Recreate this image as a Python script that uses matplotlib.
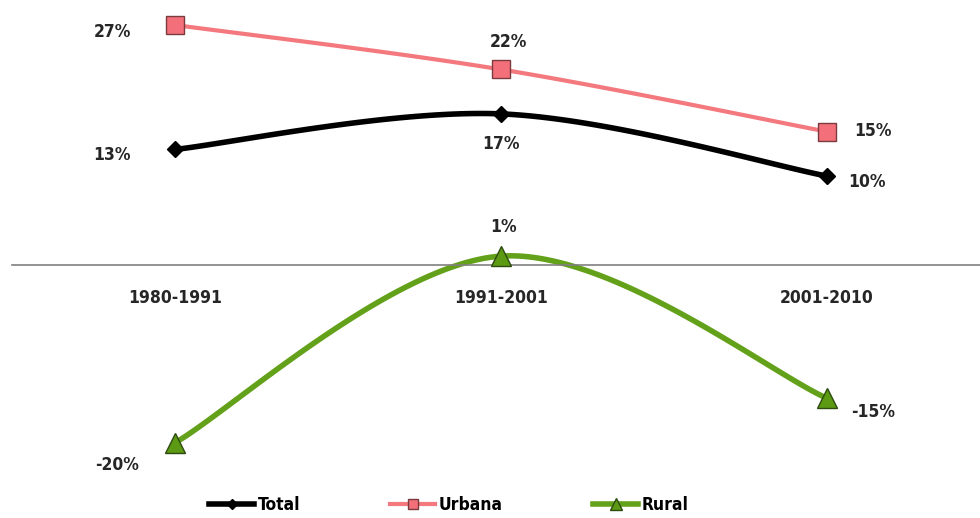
import matplotlib.pyplot as plt
import numpy as np
from matplotlib import font_manager

periods = ['1980-1991', '1991-2001', '2001-2010']
total = [13, 17, 10]
urbana = [27, 22, 15]
rural = [-20, 1, -15]

# pick a narrow bold font if we have one
fam = 'DejaVu Sans'
stretch = 'normal'
for f in font_manager.fontManager.ttflist:
    if ('Narrow' in f.name or 'Condensed' in f.name) and f.weight in ('bold', 700):
        fam = f.name
        break
    if f.stretch in ('condensed', 'semi-condensed', 'extra-condensed') and f.weight in ('bold', 700):
        fam = f.name
        stretch = f.stretch
        break
plt.rcParams['font.family'] = [fam, 'DejaVu Sans']
plt.rcParams['font.stretch'] = stretch
txt_color = '#262626'


def smooth(xs, ys, n=60):
    # catmull-rom style curve through the points (like Excel's smoothed line)
    xs = np.asarray(xs, float)
    ys = np.asarray(ys, float)
    px = np.concatenate([[xs[0]], xs, [xs[-1]]])
    py = np.concatenate([[ys[0]], ys, [ys[-1]]])
    ox, oy = [], []
    for i in range(1, len(px) - 2):
        p0, p1, p2, p3 = (np.array([px[j], py[j]]) for j in (i - 1, i, i + 1, i + 2))
        c1 = p1 + (p2 - p0) / 6
        c2 = p2 - (p3 - p1) / 6
        t = np.linspace(0, 1, n)[:, None]
        b = (1 - t) ** 3 * p1 + 3 * (1 - t) ** 2 * t * c1 + 3 * (1 - t) * t ** 2 * c2 + t ** 3 * p2
        ox.extend(b[:, 0])
        oy.extend(b[:, 1])
    return np.array(ox), np.array(oy)


fig = plt.figure(figsize=(9.8, 5.18), dpi=100)
ax = fig.add_axes([12 / 980, 53 / 518, 968 / 980, 460 / 518])
x = np.arange(len(periods))

styles = [
    ('Total', total, '#000000', 4, 'D', 8, '#000000', '#000000'),
    ('Urbana', urbana, '#f4797f', 3, 's', 13, '#f3707a', '#7a3a3e'),
    ('Rural', rural, '#64a11a', 4, '^', 14, '#5b9a12', '#2e4a10'),
]
for name, vals, col, lw, mk, ms, fc, ec in styles:
    sx, sy = smooth(x, vals)
    ax.plot(sx, sy, color=col, lw=lw, solid_capstyle='round', zorder=2)
    ax.plot(x, vals, linestyle='none', marker=mk, ms=ms, mfc=fc, mec=ec, mew=1, zorder=3)
    # legend proxy
    ax.plot([], [], color=col, lw=lw, marker=mk, ms=ms * 0.6, mfc=fc, mec=ec, label=name)

# data label offsets in pixels
offsets = {
    'Total': [(-63, -6), (0, -30), (40, -6)],
    'Urbana': [(-63, -7), (7, 27), (46, 1)],
    'Rural': [(-58, -22), (2, 29), (46, -14)],
}
for name, vals, *_ in styles:
    for i, v in enumerate(vals):
        dx, dy = offsets[name][i]
        ax.annotate(f'{v}%', (x[i], v), xytext=(dx, dy), textcoords='offset pixels',
                    ha='center', va='center', fontsize=12.5, fontweight='bold', color=txt_color)

ax.set_xlim(-0.5, 2.469)
ax.set_ylim(-22.5, 29.25)
for s in ['top', 'right', 'left']:
    ax.spines[s].set_visible(False)
ax.spines['bottom'].set_position(('data', 0))
ax.spines['bottom'].set_color('#808080')
ax.spines['bottom'].set_linewidth(1.2)
ax.set_yticks([])
ax.set_xticks(x)
ax.set_xticklabels(periods, fontsize=12.5, fontweight='bold', color=txt_color)
ax.tick_params(axis='x', length=0, pad=17)

fig.legend(loc='lower center', bbox_to_anchor=(0.458, -0.022), ncol=3, frameon=False,
           handlelength=2.6, columnspacing=5.2, handletextpad=0.2,
           prop={'size': 12.5, 'weight': 'bold'})

fig.savefig('out.png', dpi=100)
